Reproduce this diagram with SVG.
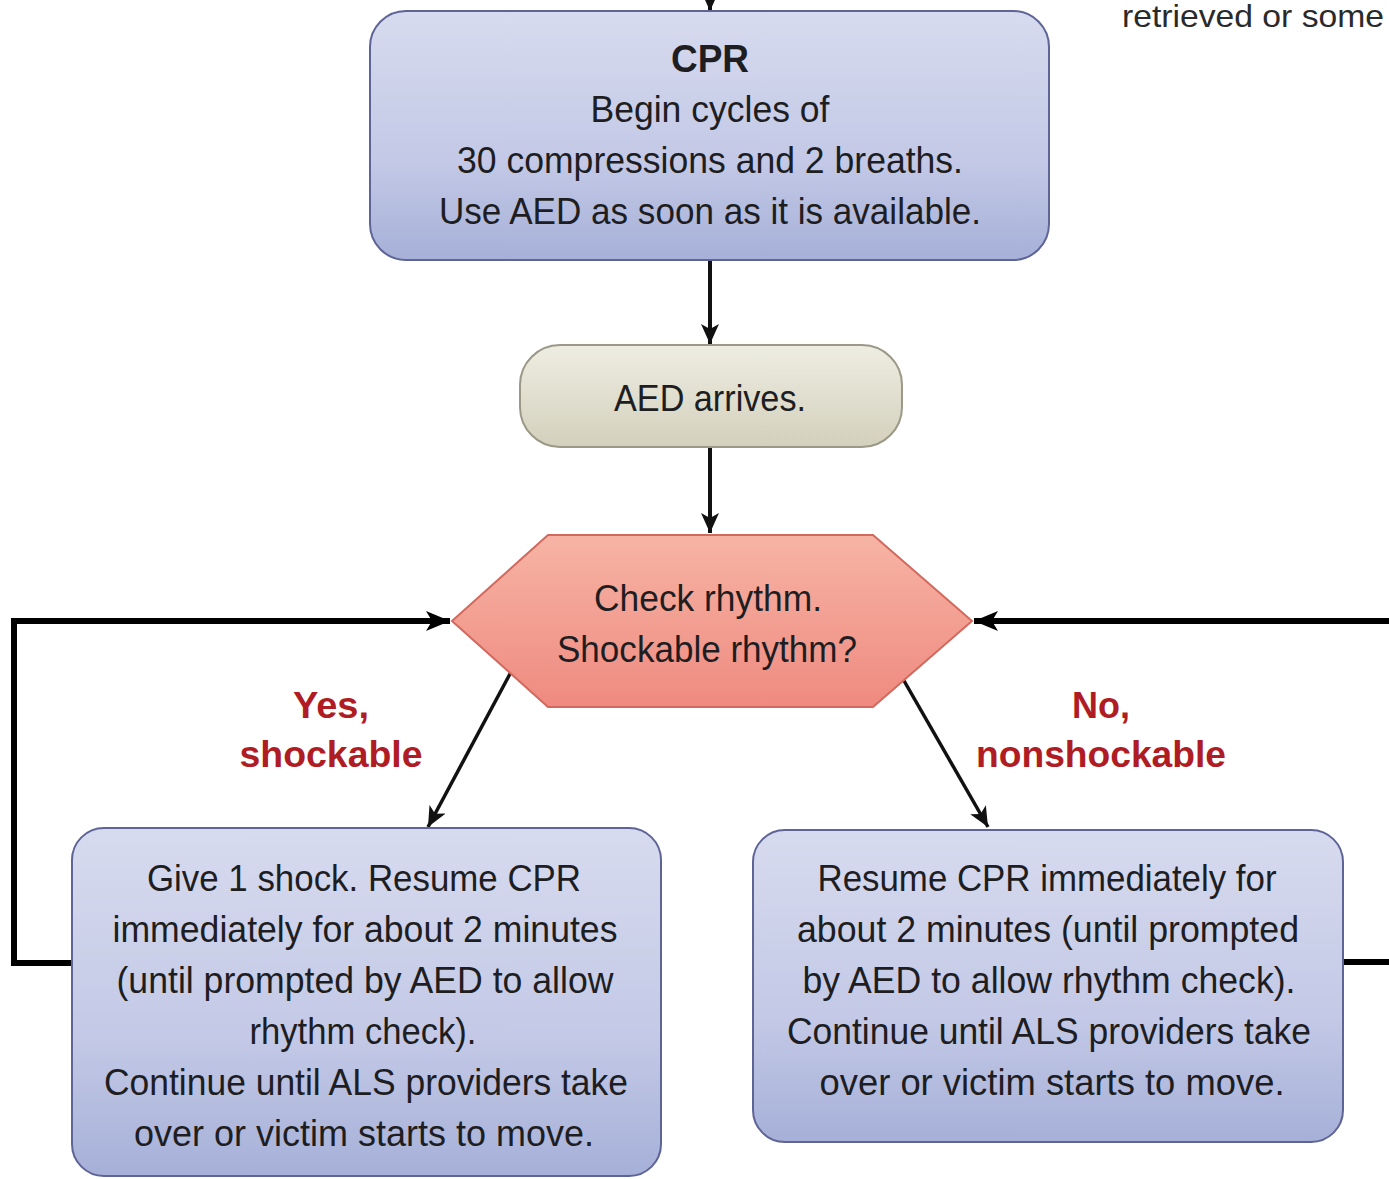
<svg xmlns="http://www.w3.org/2000/svg" width="1389" height="1179" viewBox="0 0 1389 1179">
<style>
.t{font-family:"Liberation Sans",Arial,Helvetica,sans-serif;font-size:37px;fill:#1e1e22;text-anchor:middle}
.b{font-weight:bold}
.lbl{font-family:"Liberation Sans",Arial,Helvetica,sans-serif;font-size:37px;font-weight:bold;fill:#b01c24;text-anchor:middle}
.box{fill:url(#gBlue);stroke:#5e6496;stroke-width:2}
.beige{fill:url(#gBeige);stroke:#9b9887;stroke-width:2}
.hex{fill:url(#gRed);stroke:#d2695f;stroke-width:2}
.c{fill:none;stroke:#111;stroke-width:4}
.thin{fill:none;stroke:#111;stroke-width:3.5}
.thick{fill:none;stroke:#000;stroke-width:6}
</style>
<defs>
<linearGradient id="gBlue" x1="0" y1="0" x2="0" y2="1">
<stop offset="0" stop-color="#d7dbef"/>
<stop offset="0.6" stop-color="#c3c9e6"/>
<stop offset="1" stop-color="#a6b0d8"/>
</linearGradient>
<linearGradient id="gBeige" x1="0" y1="0" x2="0" y2="1">
<stop offset="0" stop-color="#eeede2"/>
<stop offset="1" stop-color="#d3d0bc"/>
</linearGradient>
<linearGradient id="gRed" x1="0" y1="0" x2="0" y2="1">
<stop offset="0" stop-color="#f6b4a4"/>
<stop offset="1" stop-color="#ef8a80"/>
</linearGradient>
<marker id="ah" markerUnits="userSpaceOnUse" markerWidth="22" markerHeight="18" refX="20" refY="9" orient="auto">
<path d="M0,0 L20,9 L0,18 L5,9 z" fill="#111"/>
</marker>
<marker id="ahB" markerUnits="userSpaceOnUse" markerWidth="26" markerHeight="20" refX="24" refY="10" orient="auto">
<path d="M0,0 L24,10 L0,20 L6,10 z" fill="#000"/>
</marker>
</defs>

<text x="1122" y="27" style="font-family:'Liberation Sans',Arial,Helvetica,sans-serif;font-size:32px;fill:#2a2a2a" textLength="262" lengthAdjust="spacingAndGlyphs">retrieved or some</text>

<g id="connectors">
<path class="c" d="M710,0 V11" marker-end="url(#ah)"/>
<path class="c" d="M710,261 V344" marker-end="url(#ah)"/>
<path class="c" d="M710,448 V533" marker-end="url(#ah)"/>
<path class="thin" d="M511,672 L428,827" marker-end="url(#ah)"/>
<path class="thin" d="M903,679 L988,827" marker-end="url(#ah)"/>
<path class="thick" d="M72,963 H14 V621 H450" marker-end="url(#ahB)"/>
<path class="thick" d="M1343,962 H1395"/>
<path class="thick" d="M1395,621 H974" marker-end="url(#ahB)"/>
</g>

<g id="node-cpr">
<rect class="box" x="370" y="11" width="679" height="249" rx="36"/>
<text class="t b" x="710" y="72" style="font-size:39px" textLength="78" lengthAdjust="spacingAndGlyphs">CPR</text>
<text class="t" x="710" y="122" textLength="239" lengthAdjust="spacingAndGlyphs">Begin cycles of</text>
<text class="t" x="710" y="173" textLength="506" lengthAdjust="spacingAndGlyphs">30 compressions and 2 breaths.</text>
<text class="t" x="710" y="224" textLength="542" lengthAdjust="spacingAndGlyphs">Use AED as soon as it is available.</text>
</g>

<g id="node-aed">
<rect class="beige" x="520" y="345" width="382" height="102" rx="40"/>
<text class="t" x="710" y="411" textLength="192" lengthAdjust="spacingAndGlyphs">AED arrives.</text>
</g>

<g id="node-check">
<polygon class="hex" points="452,621 548,535 873,535 972,621 873,707 548,707"/>
<text class="t" x="708" y="611" textLength="228" lengthAdjust="spacingAndGlyphs">Check rhythm.</text>
<text class="t" x="707" y="662" textLength="300" lengthAdjust="spacingAndGlyphs">Shockable rhythm?</text>
</g>

<g id="label-yes">
<text class="lbl" x="331" y="718" textLength="76" lengthAdjust="spacingAndGlyphs">Yes,</text>
<text class="lbl" x="331" y="767" textLength="183" lengthAdjust="spacingAndGlyphs">shockable</text>
</g>

<g id="label-no">
<text class="lbl" x="1101" y="718" textLength="58" lengthAdjust="spacingAndGlyphs">No,</text>
<text class="lbl" x="1101" y="767" textLength="250" lengthAdjust="spacingAndGlyphs">nonshockable</text>
</g>

<g id="node-shock">
<rect class="box" x="72" y="828" width="589" height="348" rx="32"/>
<text class="t" x="364" y="891" textLength="434" lengthAdjust="spacingAndGlyphs">Give 1 shock. Resume CPR</text>
<text class="t" x="365" y="942" textLength="505" lengthAdjust="spacingAndGlyphs">immediately for about 2 minutes</text>
<text class="t" x="365" y="993" textLength="497" lengthAdjust="spacingAndGlyphs">(until prompted by AED to allow</text>
<text class="t" x="363" y="1044" textLength="227" lengthAdjust="spacingAndGlyphs">rhythm check).</text>
<text class="t" x="366" y="1095" textLength="524" lengthAdjust="spacingAndGlyphs">Continue until ALS providers take</text>
<text class="t" x="364" y="1146" textLength="460" lengthAdjust="spacingAndGlyphs">over or victim starts to move.</text>
</g>

<g id="node-noshock">
<rect class="box" x="753" y="830" width="590" height="312" rx="32"/>
<text class="t" x="1047" y="891" textLength="459" lengthAdjust="spacingAndGlyphs">Resume CPR immediately for</text>
<text class="t" x="1048" y="942" textLength="502" lengthAdjust="spacingAndGlyphs">about 2 minutes (until prompted</text>
<text class="t" x="1049" y="993" textLength="493" lengthAdjust="spacingAndGlyphs">by AED to allow rhythm check).</text>
<text class="t" x="1049" y="1044" textLength="524" lengthAdjust="spacingAndGlyphs">Continue until ALS providers take</text>
<text class="t" x="1052" y="1095" textLength="465" lengthAdjust="spacingAndGlyphs">over or victim starts to move.</text>
</g>
</svg>
